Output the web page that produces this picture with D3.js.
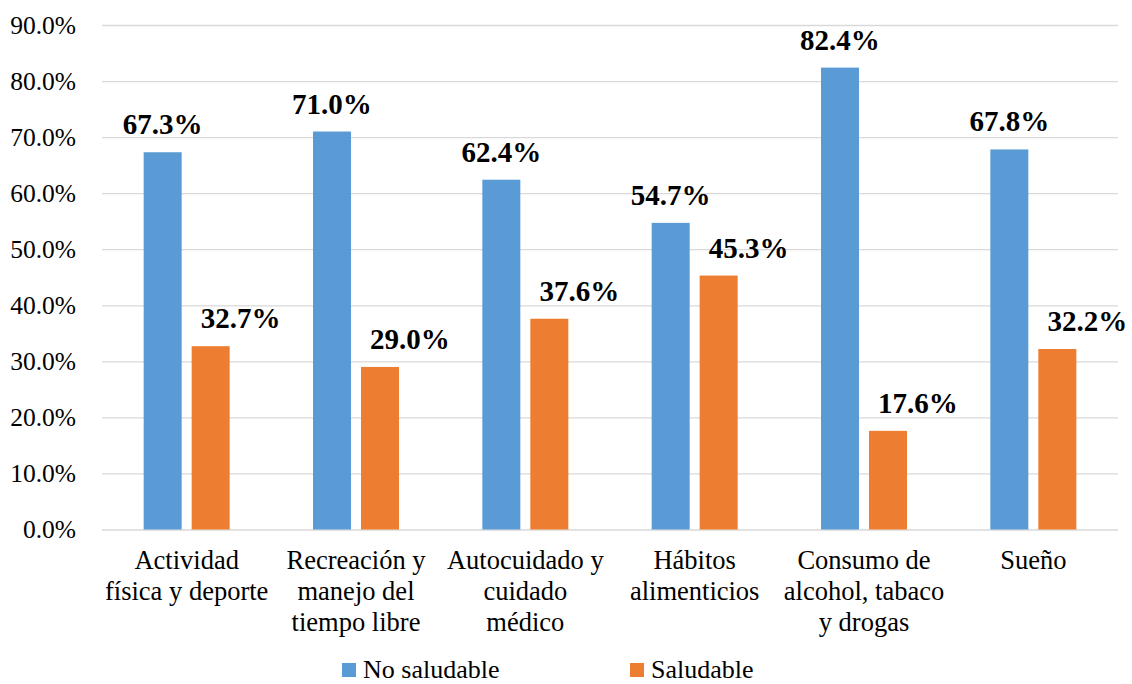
<!DOCTYPE html>
<html>
<head>
<meta charset="utf-8">
<script src="https://cdn.jsdelivr.net/npm/d3@7"></script>
<style>
  body { margin: 0; background: #fff; }
</style>
</head>
<body>
<div id="chart"></div>
<script>
// categories (each split into the lines shown under the axis)
const categories = [
  ["Actividad", "física y deporte"],
  ["Recreación y", "manejo del", "tiempo libre"],
  ["Autocuidado y", "cuidado", "médico"],
  ["Hábitos", "alimenticios"],
  ["Consumo de", "alcohol, tabaco", "y drogas"],
  ["Sueño"]
];
const seriesNames = ["No saludable", "Saludable"];
const noSaludable = [67.3, 71.0, 62.4, 54.7, 82.4, 67.8];
const saludable   = [32.7, 29.0, 37.6, 45.3, 17.6, 32.2];
const yTicks = [0, 10, 20, 30, 40, 50, 60, 70, 80, 90];
const colors = ["#5B9BD5", "#ED7D31"];

const FONT = "'Liberation Serif', 'Times New Roman', Tinos, 'DejaVu Serif', serif";
const W = 1132, H = 684;
const m = { left: 102, right: 14, top: 25, bottom: 154.5 };
const plotW = W - m.left - m.right;
const plotH = H - m.top - m.bottom;

const svg = d3.select("#chart").append("svg")
  .attr("width", W)
  .attr("height", H)
  .attr("font-family", FONT);

const g = svg.append("g").attr("transform", `translate(${m.left},${m.top})`);

const keys = categories.map((c, i) => i);
const x0 = d3.scaleBand().domain(keys).range([0, plotW]).padding(0);
const x1 = d3.scaleBand().domain(seriesNames).range([0, x0.bandwidth()])
  .paddingInner(0.208).paddingOuter(0.868);
const y = d3.scaleLinear().domain([0, 90]).range([plotH, 0]);

// gridlines + y labels
const yAxis = g.append("g")
  .call(d3.axisLeft(y).tickValues(yTicks).tickSize(-plotW).tickPadding(26)
    .tickFormat(d => d.toFixed(1) + "%"));
yAxis.attr("font-family", FONT);
yAxis.select(".domain").remove();
yAxis.selectAll("line").attr("stroke", "#d9d9d9").attr("stroke-width", 1.3);
yAxis.selectAll("text")
  .style("font-family", FONT)
  .style("font-size", "25.5px")
  .attr("fill", "#000");

const rows = keys.map(i => ({ i, vals: [noSaludable[i], saludable[i]] }));

const groups = g.selectAll(".cat")
  .data(rows)
  .join("g")
    .attr("class", "cat")
    .attr("transform", d => `translate(${x0(d.i)},0)`);

groups.selectAll("rect")
  .data(d => d.vals.map((v, s) => ({ s, v })))
  .join("rect")
    .attr("x", d => x1(seriesNames[d.s]))
    .attr("y", d => y(d.v))
    .attr("width", x1.bandwidth())
    .attr("height", d => y(0) - y(d.v))
    .attr("fill", d => colors[d.s]);

// value labels (orange ones sit nudged to the right, as in the source)
groups.selectAll("text.val")
  .data(d => d.vals.map((v, s) => ({ s, v })))
  .join("text")
    .attr("class", "val")
    .attr("x", d => x1(seriesNames[d.s]) + x1.bandwidth() / 2 + (d.s === 1 ? 30 : 0))
    .attr("y", d => y(d.v) - 18)
    .attr("text-anchor", "middle")
    .style("font-family", FONT)
    .style("font-size", "29px")
    .style("font-weight", "bold")
    .text(d => d.v.toFixed(1) + "%");

// category labels
groups.append("text")
  .attr("text-anchor", "middle")
  .style("font-family", FONT)
  .style("font-size", "26.5px")
  .attr("transform", `translate(${x0.bandwidth() / 2},${plotH + 39.5})`)
  .selectAll("tspan")
  .data(d => categories[d.i])
  .join("tspan")
    .attr("x", 0)
    .attr("y", (d, k) => k * 31)
    .text(d => d);

// legend
const legendX = [342, 630];
const legend = svg.append("g").attr("transform", "translate(0,663)");
seriesNames.forEach((name, s) => {
  legend.append("rect")
    .attr("x", legendX[s]).attr("y", 0)
    .attr("width", 14).attr("height", 14)
    .attr("fill", colors[s]);
  legend.append("text")
    .attr("x", legendX[s] + 21).attr("y", 15)
    .style("font-family", FONT)
    .style("font-size", "26px")
    .text(name);
});
</script>
</body>
</html>
